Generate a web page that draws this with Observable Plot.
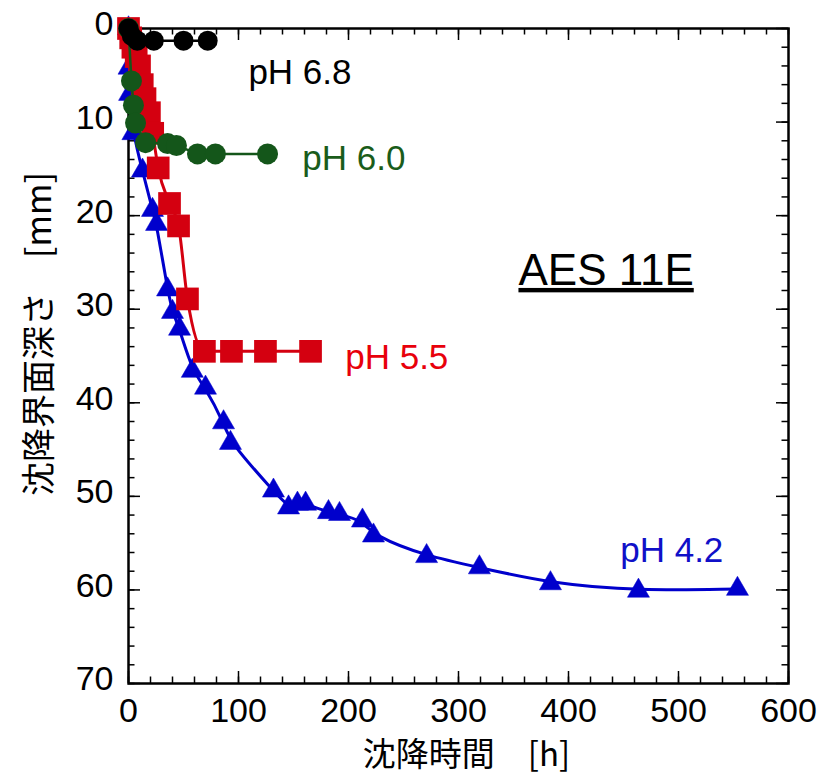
<!DOCTYPE html>
<html>
<head>
<meta charset="utf-8">
<script src="https://cdn.jsdelivr.net/npm/d3@7"></script>
<script src="https://cdn.jsdelivr.net/npm/@observablehq/plot@0.6"></script>
<style>
  html, body { margin: 0; padding: 0; background: #fff; }
</style>
</head>
<body>
<div id="chart"></div>
<script>
// ---- data (time [h], depth [mm]) ----
const ph68_t = [0, 3, 8, 23, 50, 72];
const ph68_d = [0, 0.8, 1.3, 1.3, 1.3, 1.3];

const ph60_t = [0, 2.7, 4.5, 6.4, 15.5, 35.5, 43.6, 62.7, 79, 126.4];
const ph60_d = [0, 5.6, 8.2, 10.1, 12.2, 12.3, 12.5, 13.4, 13.4, 13.4];

const ph55_t = [0, 2, 4, 7, 10, 12.5, 15, 19, 22, 27, 37.3, 45.5, 53.6, 69, 93.6, 124.5, 165.5];
const ph55_d = [0, 1, 2, 3, 4, 6, 7.5, 9, 11.2, 14.9, 18.7, 21.1, 28.9, 34.5, 34.5, 34.5, 34.5];

const ph42_t = [0, 0.5, 1, 4, 12.7, 21.8, 25.5, 35.5, 40, 46.4, 58, 70, 86.4, 92.7, 131.8, 145.5, 153.6, 161, 181.8, 191.8, 212.7, 222.7, 271, 319, 383.6, 463.6, 553.6];
const ph42_d = [0, 4.2, 7, 11.2, 15.2, 19.4, 20.9, 27.9, 30.3, 32.1, 36.6, 38.4, 42.1, 44.3, 49.4, 51.2, 50.8, 50.8, 51.7, 51.9, 52.6, 54.2, 56.4, 57.6, 59.3, 60.1, 59.9];

const xTicks = [0, 100, 200, 300, 400, 500, 600];
const yTicks = [0, 10, 20, 30, 40, 50, 60, 70];
const xMinor = d3.range(0, 601, 20);
const yMinor = d3.range(0, 71, 2);

const labelText = ["pH 6.8", "pH 6.0", "pH 5.5", "pH 4.2"];
const labelT = [109, 158, 197, 447];
const labelD = [4.7, 13.9, 35.2, 55.8];
const labelColor = ["#000000", "#1a5c1a", "#e8000b", "#1010c8"];

const titleText = "AES 11E";
const xLabel = "沈降時間　[h]";
const yLabel = "沈降界面深さ　[mm]";

// ---- build tables ----
const zip = (t, d) => t.map((v, i) => ({t: v, d: d[i]}));
const s68 = zip(ph68_t, ph68_d);
const s60 = zip(ph60_t, ph60_d);
const s55 = zip(ph55_t, ph55_d);
const s42 = zip(ph42_t, ph42_d);
const labels = labelText.map((s, i) => ({s, t: labelT[i], d: labelD[i], c: labelColor[i]}));

const W = 823, H = 776;
const mL = 128, mR = 35, mT = 28, mB = 93;
const innerW = W - mL - mR, innerH = H - mT - mB;
const major = 12, minor = 6.5;

const BLUE = "#0000cc", RED = "#d40010", GREEN = "#14561a", BLACK = "#000";
const latin = "'Liberation Sans', Arial, Helvetica, sans-serif";
const cjk = "'Noto Sans CJK JP', 'Noto Sans CJK SC', sans-serif";

const chart = Plot.plot({
  width: W, height: H,
  marginLeft: mL, marginRight: mR, marginTop: mT, marginBottom: mB,
  style: {fontFamily: latin, fontSize: "34px", background: "#fff", color: "#000"},
  x: {domain: [0, 600], axis: null},
  y: {domain: [0, 70], reverse: true, axis: null},
  marks: [
    // tick labels
    Plot.axisX(xTicks, {anchor: "bottom", tickSize: 0, tickPadding: 14, fontSize: 34, tickFormat: d => String(d), label: null}),
    Plot.axisY(yTicks, {anchor: "left", tickSize: 0, tickPadding: 15, dy: -4, fontSize: 34, tickFormat: d => String(d), label: null}),
    // inward ticks: bottom/top
    Plot.tickX(xMinor, {x: d => d, insetTop: innerH - minor, stroke: BLACK, strokeWidth: 1.5}),
    Plot.tickX(xTicks, {x: d => d, insetTop: innerH - major, stroke: BLACK, strokeWidth: 1.5}),
    Plot.tickX(xMinor, {x: d => d, insetBottom: innerH - minor, stroke: BLACK, strokeWidth: 1.5}),
    Plot.tickX(xTicks, {x: d => d, insetBottom: innerH - major, stroke: BLACK, strokeWidth: 1.5}),
    // inward ticks: left/right
    Plot.tickY(yMinor, {y: d => d, insetRight: innerW - minor, stroke: BLACK, strokeWidth: 1.5}),
    Plot.tickY(yTicks, {y: d => d, insetRight: innerW - major, stroke: BLACK, strokeWidth: 1.5}),
    Plot.tickY(yMinor, {y: d => d, insetLeft: innerW - minor, stroke: BLACK, strokeWidth: 1.5}),
    Plot.tickY(yTicks, {y: d => d, insetLeft: innerW - major, stroke: BLACK, strokeWidth: 1.5}),
    Plot.frame({stroke: BLACK, strokeWidth: 2.5}),

    // pH 4.2
    Plot.line(s42, {x: "t", y: "d", stroke: BLUE, strokeWidth: 3, curve: "basis"}),
    Plot.dot(s42, {x: "t", y: "d", symbol: "triangle", r: 8.2, fill: BLUE, stroke: BLUE, strokeWidth: 0.5}),
    // pH 5.5
    Plot.line(s55, {x: "t", y: "d", stroke: RED, strokeWidth: 3, curve: "monotone-x"}),
    Plot.dot(s55, {x: "t", y: "d", symbol: "square", r: 12.8, fill: RED, stroke: "none"}),
    // pH 6.0
    Plot.line(s60, {x: "t", y: "d", stroke: GREEN, strokeWidth: 2.5}),
    Plot.dot(s60, {x: "t", y: "d", symbol: "circle", r: 10.5, fill: GREEN, stroke: "none"}),
    // pH 6.8
    Plot.line(s68, {x: "t", y: "d", stroke: BLACK, strokeWidth: 2.5}),
    Plot.dot(s68, {x: "t", y: "d", symbol: "circle", r: 10, fill: BLACK, stroke: "none"}),

    // series labels
    Plot.text(labels, {x: "t", y: "d", text: "s", fill: "c", fontSize: 35, textAnchor: "start", lineAnchor: "middle", fontFamily: latin}),
    // title
    Plot.text([titleText], {x: () => 354.5, y: () => 25.9, text: d => d, fontSize: 44, textAnchor: "start", lineAnchor: "middle", fill: BLACK, fontFamily: latin}),
    // axis labels
    Plot.text([xLabel], {frameAnchor: "bottom", dx: 8, dy: 72, text: d => d, fontSize: 33, textAnchor: "middle", lineAnchor: "middle", fontFamily: cjk, fill: BLACK, letterSpacing: "1.5px"}),
    Plot.text([yLabel], {frameAnchor: "left", dx: -88, dy: -22, rotate: -90, text: d => d, fontSize: 34, textAnchor: "middle", lineAnchor: "middle", fontFamily: cjk, fill: BLACK})
  ]
});

d3.select(chart).selectAll("text").filter(function() { return this.textContent === titleText; })
  .style("text-decoration", "underline");

document.getElementById("chart").appendChild(chart);
</script>
</body>
</html>
